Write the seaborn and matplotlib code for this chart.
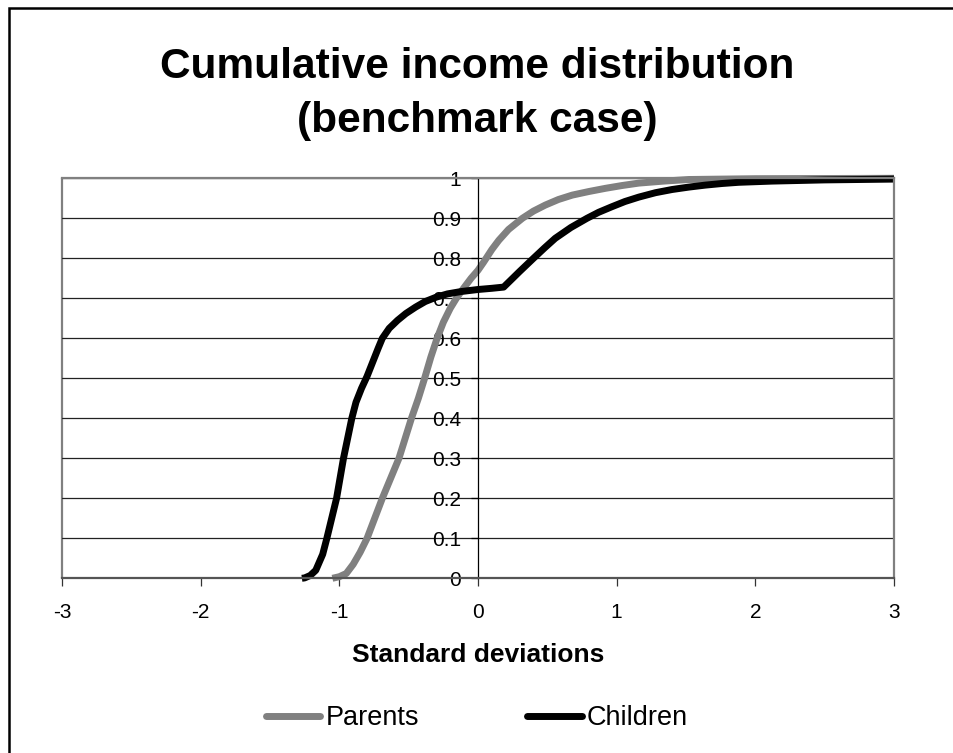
import numpy as np
import pandas as pd
import matplotlib
matplotlib.use('Agg')
import matplotlib.pyplot as plt
from matplotlib.patches import Rectangle
import seaborn as sns

# values
parents_x = [-1.05, -1.00, -0.95, -0.90, -0.85, -0.80, -0.745, -0.69, -0.63, -0.57,
             -0.525, -0.48, -0.43, -0.385, -0.34, -0.295, -0.25, -0.20, -0.156, -0.10,
             -0.05, 0.0, 0.04, 0.10, 0.15, 0.22, 0.32, 0.40, 0.485, 0.58,
             0.68, 0.80, 0.92, 1.04, 1.16, 1.34, 1.52, 2.0, 3.0]
parents_y = [0.0, 0.004, 0.012, 0.035, 0.065, 0.10, 0.15, 0.20, 0.25, 0.30,
             0.35, 0.40, 0.45, 0.50, 0.553, 0.60, 0.64, 0.675, 0.70, 0.727,
             0.75, 0.77, 0.79, 0.822, 0.845, 0.872, 0.90, 0.918, 0.933, 0.947,
             0.958, 0.967, 0.975, 0.982, 0.988, 0.993, 0.997, 0.999, 1.0]

children_x = [-1.27, -1.25, -1.21, -1.17, -1.12, -1.09, -1.055, -1.02, -0.995, -0.97,
              -0.94, -0.91, -0.88, -0.84, -0.80, -0.76, -0.72, -0.69, -0.64, -0.58,
              -0.52, -0.45, -0.38, -0.30, -0.22, -0.12, 0.0, 0.10, 0.185, 0.25,
              0.30, 0.40, 0.48, 0.557, 0.67, 0.786, 0.87, 0.966, 1.06, 1.16,
              1.28, 1.40, 1.52, 1.64, 1.76, 1.88, 2.12, 2.5, 3.0]
children_y = [0.0, 0.001, 0.007, 0.02, 0.06, 0.10, 0.15, 0.20, 0.25, 0.30,
              0.35, 0.40, 0.44, 0.475, 0.505, 0.54, 0.575, 0.60, 0.625, 0.645,
              0.662, 0.678, 0.692, 0.703, 0.711, 0.717, 0.722, 0.725, 0.728, 0.75,
              0.767, 0.80, 0.826, 0.85, 0.877, 0.90, 0.915, 0.929, 0.942, 0.953,
              0.964, 0.972, 0.978, 0.983, 0.987, 0.99, 0.993, 0.996, 0.998]

x_ticks = [-3, -2, -1, 0, 1, 2, 3]
y_ticks = [0, 0.1, 0.2, 0.3, 0.4, 0.5, 0.6, 0.7, 0.8, 0.9, 1]
y_ticklabels = ['0', '0.1', '0.2', '0.3', '0.4', '0.5', '0.6', '0.7', '0.8', '0.9', '1']

df = pd.concat([
    pd.DataFrame({'x': parents_x, 'y': parents_y, 'series': 'Parents'}),
    pd.DataFrame({'x': children_x, 'y': children_y, 'series': 'Children'}),
], ignore_index=True)

sns.set_style('white')
plt.rcParams['font.family'] = ['Liberation Sans', 'DejaVu Sans']
plt.rcParams['text.color'] = 'black'
plt.rcParams['axes.labelcolor'] = 'black'
plt.rcParams['xtick.color'] = 'black'
plt.rcParams['ytick.color'] = 'black'

fig = plt.figure(figsize=(9.54, 7.53), dpi=100)
ax = fig.add_axes([62 / 954, 1 - 578.3 / 753, 832 / 954, 400 / 753])

sns.lineplot(data=df, x='x', y='y', hue='series', sort=False,
             palette={'Parents': '#808080', 'Children': 'black'},
             linewidth=5, ax=ax, legend=False, clip_on=False,
             solid_capstyle='butt', solid_joinstyle='round')

ax.set_xlim(-3, 3)
ax.set_ylim(0, 1)
ax.set_xticks(x_ticks)
ax.set_xticklabels([str(t) for t in x_ticks])
ax.set_yticks(y_ticks)
ax.set_yticklabels(y_ticklabels)
ax.grid(axis='y', color='#222222', linewidth=0.9)
ax.grid(axis='x', visible=False)
ax.set_axisbelow(True)

# y axis crosses at x = 0, plot frame in gray
ax.spines['left'].set_position(('data', 0))
ax.spines['left'].set_color('black')
ax.spines['left'].set_linewidth(0.9)
for side in ['top', 'right', 'bottom']:
    ax.spines[side].set_color('#808080')
    ax.spines[side].set_linewidth(1.6)
ax.spines['bottom'].set_color('#555555')
ax.axvline(-3, color='#808080', linewidth=1.6, clip_on=False, zorder=0.5)

ax.tick_params(axis='y', direction='out', length=5, width=0.9, color='black',
               labelsize=15, pad=7, left=True)
ax.tick_params(axis='x', direction='out', length=6, width=0.9, color='#333333',
               labelsize=15, pad=12, bottom=True)

ax.set_xlabel('Standard deviations', fontsize=19, fontweight='bold', labelpad=15)
ax.set_ylabel('')

fig.text(0.5, 1 - 78.3 / 753, 'Cumulative income distribution',
         ha='center', va='baseline', fontsize=30.5, fontweight='bold')
fig.text(0.5, 1 - 131.7 / 753, '(benchmark case)',
         ha='center', va='baseline', fontsize=30.5, fontweight='bold')

handles = [plt.Line2D([], [], color='#808080', linewidth=5, solid_capstyle='round'),
           plt.Line2D([], [], color='black', linewidth=5, solid_capstyle='round')]
fig.legend(handles, ['Parents', 'Children'], loc='center',
           bbox_to_anchor=(0.5, 1 - 718 / 753), ncol=2, frameon=False,
           fontsize=19.5, handlelength=2.0, handletextpad=0.2, columnspacing=4.0)

# outer chart border
fig.add_artist(Rectangle((9 / 954, -0.05), 1.1, 1 - 8 / 753 + 0.05,
                         transform=fig.transFigure, fill=False,
                         edgecolor='black', linewidth=1.8))

fig.savefig('out.png', dpi=100)
